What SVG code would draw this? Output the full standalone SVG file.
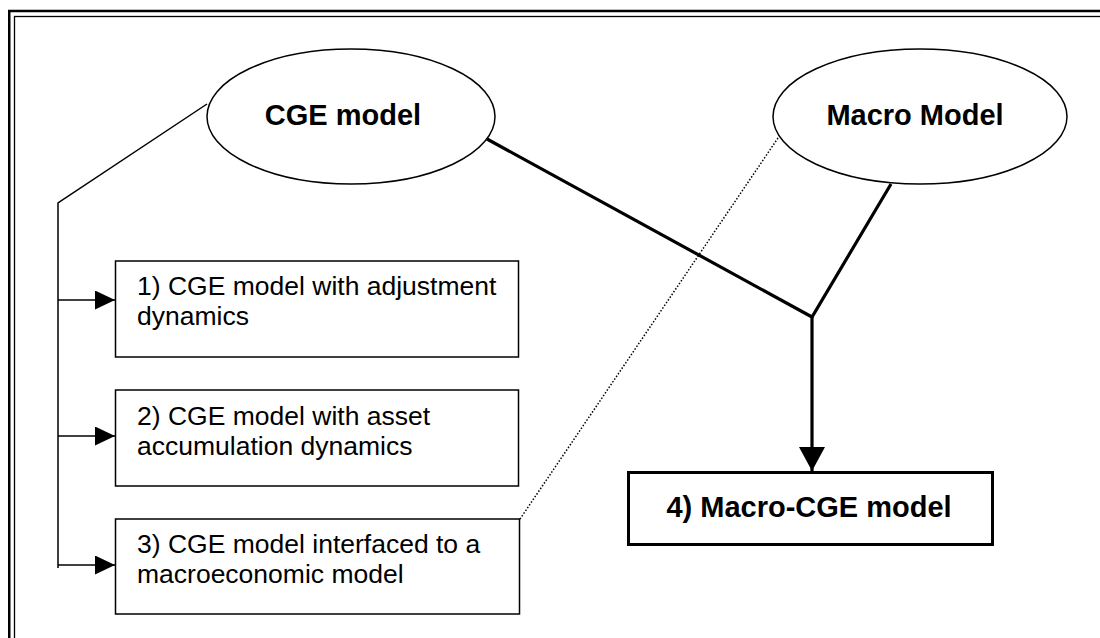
<svg xmlns="http://www.w3.org/2000/svg" width="1100" height="638" viewBox="0 0 1100 638">
<style>
.frame{fill:none;stroke:#000}
.ell{fill:#fff;stroke:#000;stroke-width:1.5}
.box{fill:#fff;stroke:#000;stroke-width:1.5}
.bbox{fill:#fff;stroke:#000;stroke-width:3}
.lbl{font-family:"Liberation Sans",Arial,sans-serif;font-size:26.5px;fill:#000}
.blbl{font-family:"Liberation Sans",Arial,sans-serif;font-size:29px;font-weight:bold;fill:#000;text-anchor:middle}
.thin{fill:none;stroke:#000;stroke-width:1.5}
.thick{fill:none;stroke:#000;stroke-width:3.2}
.dot{fill:none;stroke:#000;stroke-width:1.5;stroke-dasharray:1.5 1.8}
</style>
<defs>
<marker id="ah" markerUnits="userSpaceOnUse" viewBox="0 0 20 19" refX="20" refY="9.5" markerWidth="20" markerHeight="19" orient="auto">
<path d="M0,0 L20,9.5 L0,19 Z" fill="#000"/>
</marker>
<marker id="ahb" markerUnits="userSpaceOnUse" viewBox="0 0 24 26" refX="24" refY="13" markerWidth="24" markerHeight="26" orient="auto">
<path d="M0,0 L24,13 L0,26 Z" fill="#000"/>
</marker>
</defs>
<rect width="1100" height="638" fill="#fff"/>
<g id="frame">
<rect class="frame" x="9.25" y="11" width="1200" height="800" stroke-width="2.5"/>
<rect class="frame" x="14.5" y="16.5" width="1200" height="800" stroke-width="1.3"/>
</g>
<g id="connectors">
<path class="thin" d="M207,104 L58,203 L58,568"/>
<line class="thin" x1="58" y1="300" x2="115" y2="300" marker-end="url(#ah)"/>
<line class="thin" x1="58" y1="436" x2="115" y2="436" marker-end="url(#ah)"/>
<line class="thin" x1="58" y1="565" x2="115" y2="565" marker-end="url(#ah)"/>
<path class="thick" d="M487,139 L812,317 L891,184"/>
<line class="thick" x1="812" y1="317" x2="812" y2="471" marker-end="url(#ahb)"/>
<line class="dot" x1="778" y1="138" x2="520" y2="519"/>
</g>
<g id="cge">
<ellipse class="ell" cx="351" cy="116.5" rx="144" ry="67.5"/>
<text class="blbl" x="343" y="125">CGE model</text>
</g>
<g id="macro">
<ellipse class="ell" cx="920" cy="116.5" rx="147" ry="67.5"/>
<text class="blbl" x="915" y="125">Macro Model</text>
</g>
<g id="box1">
<rect class="box" x="115.5" y="261" width="403" height="96"/>
<text class="lbl" x="137" y="295">1) CGE model with adjustment</text>
<text class="lbl" x="137" y="325">dynamics</text>
</g>
<g id="box2">
<rect class="box" x="115.5" y="390" width="403" height="96"/>
<text class="lbl" x="137" y="425">2) CGE model with asset</text>
<text class="lbl" x="137" y="455">accumulation dynamics</text>
</g>
<g id="box3">
<rect class="box" x="115.5" y="519" width="404" height="95"/>
<text class="lbl" x="137" y="553">3) CGE model interfaced to a</text>
<text class="lbl" x="137" y="583">macroeconomic model</text>
</g>
<g id="box4">
<rect class="bbox" x="628.5" y="472.5" width="364" height="72"/>
<text class="blbl" x="809" y="517">4) Macro-CGE model</text>
</g>
</svg>
